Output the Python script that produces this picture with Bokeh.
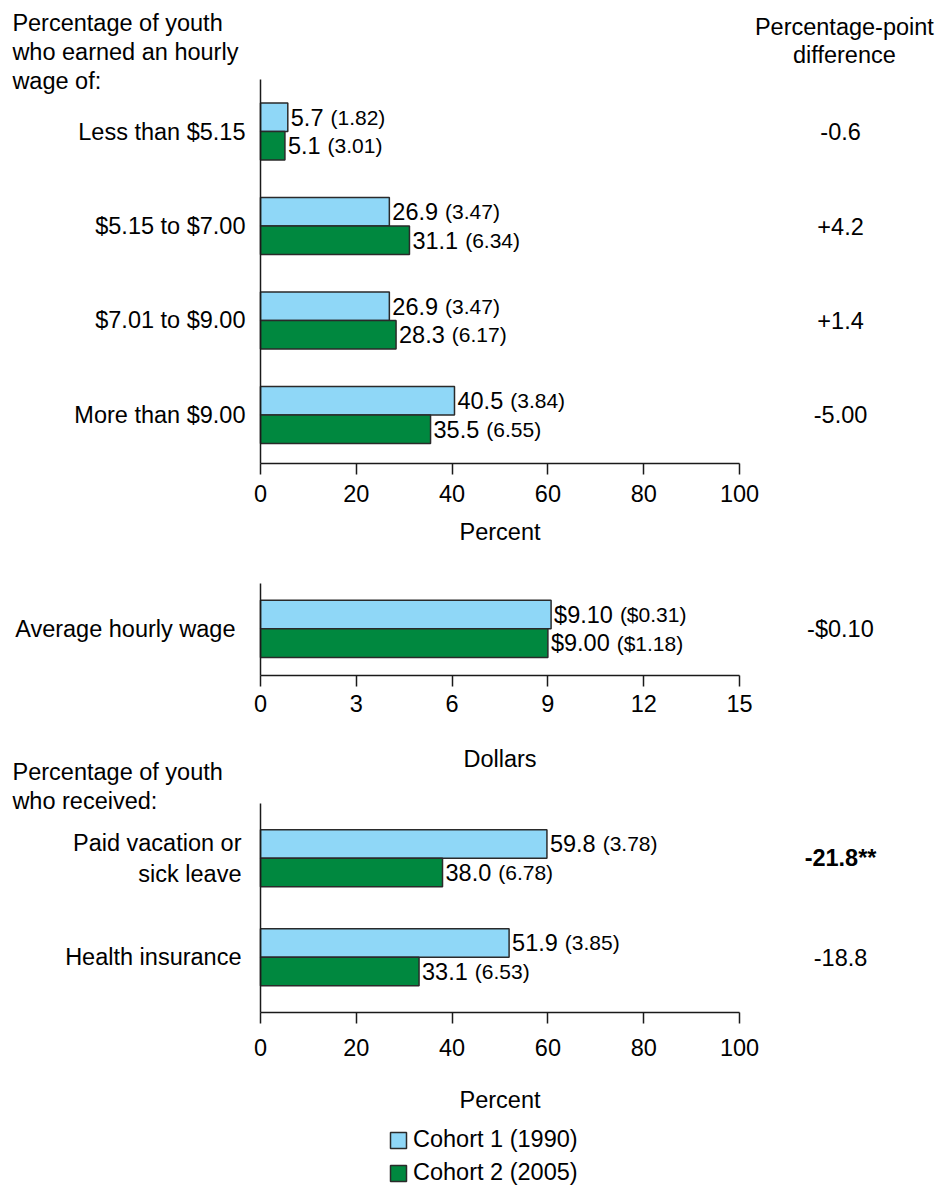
from bokeh.plotting import figure
from bokeh.models import (Range1d, FixedTicker, ColumnDataSource, LabelSet, Label,
                          Legend, LegendItem)
from bokeh.layouts import column
from bokeh.embed import file_html
from bokeh.resources import INLINE
from bokeh.core.properties import value

# ---------------- data ----------------
wage_categories = ["Less than $5.15", "$5.15 to $7.00", "$7.01 to $9.00", "More than $9.00"]
wage_c1 = [5.7, 26.9, 26.9, 40.5]
wage_c1_se = [1.82, 3.47, 3.47, 3.84]
wage_c2 = [5.1, 31.1, 28.3, 35.5]
wage_c2_se = [3.01, 6.34, 6.17, 6.55]
wage_diff = ["-0.6", "+4.2", "+1.4", "-5.00"]
wage_diff_bold = [False, False, False, False]

avg_categories = ["Average hourly wage"]
avg_c1 = [9.10]
avg_c1_se = [0.31]
avg_c2 = [9.00]
avg_c2_se = [1.18]
avg_diff = ["-$0.10"]
avg_diff_bold = [False]

benefit_categories = ["Paid vacation or\nsick leave", "Health insurance"]
benefit_c1 = [59.8, 51.9]
benefit_c1_se = [3.78, 3.85]
benefit_c2 = [38.0, 33.1]
benefit_c2_se = [6.78, 6.53]
benefit_diff = ["-21.8**", "-18.8"]
benefit_diff_bold = [True, False]

pct_ticks = [0, 20, 40, 60, 80, 100]
dollar_ticks = [0, 3, 6, 9, 12, 15]
series_names = ["Cohort 1 (1990)", "Cohort 2 (2005)"]

# ---------------- style ----------------
FONT = "Liberation Sans"
FS = "23.5px"
FS_SE = "21px"
BLUE = "#8fd7f7"
GREEN = "#00883f"
EDGE = "#2a2a2a"
AXIS = "#1a1a1a"
PAGE_W = 935

_W = {c: 0.556 for c in "0123456789$"}
_W.update({".": 0.278, "(": 0.333, ")": 0.333, " ": 0.278})


def text_width(s, px):
    return sum(_W.get(c, 0.556) for c in s) * px


def fmt_pct(v):
    return "%.1f" % v


def fmt_dol(v):
    return "$%.2f" % v


def make_panel(categories, c1, c1_se, c2, c2_se, diffs, diff_bold, x_rng, x_bounds, ticks,
               x_label, fmt, frame_h, y_rng, y_bounds, bar_h, y_standoff,
               tick_standoff, label_standoff, diff_x):
    p = figure(frame_width=PAGE_W, frame_height=frame_h,
               min_border_left=0, min_border_right=0,
               min_border_top=0, min_border_bottom=0,
               x_range=Range1d(*x_rng), y_range=Range1d(*y_rng),
               output_backend="svg", toolbar_location=None, tools="")
    p.outline_line_color = None
    p.xgrid.visible = False
    p.ygrid.visible = False
    p.background_fill_color = "white"
    p.border_fill_color = "white"

    pos = list(range(len(categories)))
    se_fmt = fmt if fmt is fmt_dol else (lambda v: "%.2f" % v)
    data = dict(
        y1=[i - bar_h / 2 for i in pos],
        y2=[i + bar_h / 2 for i in pos],
        ymid=pos,
        c1=c1, c2=c2,
        c1_txt=[fmt(v) for v in c1],
        c2_txt=[fmt(v) for v in c2],
        c1_se_txt=["(%s)" % se_fmt(v) for v in c1_se],
        c2_se_txt=["(%s)" % se_fmt(v) for v in c2_se],
        diff=diffs,
        diff_style=["bold" if b else "normal" for b in diff_bold],
    )
    data["c1_off"] = [3 + text_width(t, 23.5) + 7 for t in data["c1_txt"]]
    data["c2_off"] = [3 + text_width(t, 23.5) + 7 for t in data["c2_txt"]]
    src = ColumnDataSource(data)

    r1 = p.hbar(y="y1", left=0, right="c1", height=bar_h, source=src,
                fill_color=BLUE, line_color=EDGE, line_width=1.5)
    r2 = p.hbar(y="y2", left=0, right="c2", height=bar_h, source=src,
                fill_color=GREEN, line_color=EDGE, line_width=1.5)

    for yk, xk, tk, sk, ok in (("y1", "c1", "c1_txt", "c1_se_txt", "c1_off"),
                               ("y2", "c2", "c2_txt", "c2_se_txt", "c2_off")):
        p.add_layout(LabelSet(x=xk, y=yk, text=tk, source=src, x_offset=3,
                              text_baseline="middle", text_align="left",
                              text_font=value(FONT), text_font_size=value(FS),
                              text_color="black"))
        p.add_layout(LabelSet(x=xk, y=yk, text=sk, source=src, x_offset=ok,
                              text_baseline="middle", text_align="left",
                              text_font=value(FONT), text_font_size=value(FS_SE),
                              text_color="black"))

    p.add_layout(LabelSet(x=diff_x, y="ymid", text="diff", source=src,
                          text_baseline="middle", text_align="center",
                          text_font=value(FONT), text_font_size=value(FS),
                          text_font_style="diff_style", text_color="black"))

    xa = p.xaxis[0]
    xa.ticker = FixedTicker(ticks=ticks)
    xa.bounds = x_bounds
    xa.fixed_location = y_bounds[1]
    xa.minor_tick_line_color = None
    xa.major_tick_in = 0
    xa.major_tick_out = 11
    xa.major_tick_line_color = AXIS
    xa.major_tick_line_width = 1.5
    xa.axis_line_color = AXIS
    xa.axis_line_width = 1.5
    xa.major_label_standoff = tick_standoff
    xa.major_label_text_font = FONT
    xa.major_label_text_font_size = FS
    xa.major_label_text_color = "black"
    xa.axis_label = x_label
    xa.axis_label_text_font = FONT
    xa.axis_label_text_font_size = FS
    xa.axis_label_text_font_style = "normal"
    xa.axis_label_text_color = "black"
    xa.axis_label_standoff = label_standoff

    ya = p.yaxis[0]
    ya.fixed_location = 0
    ya.bounds = y_bounds
    ya.ticker = FixedTicker(ticks=pos)
    ya.major_label_overrides = {i: c for i, c in zip(pos, categories)}
    ya.major_tick_line_color = None
    ya.major_tick_in = 0
    ya.major_tick_out = 0
    ya.minor_tick_line_color = None
    ya.axis_line_color = AXIS
    ya.axis_line_width = 1.5
    ya.major_label_standoff = y_standoff
    ya.major_label_text_font = FONT
    ya.major_label_text_font_size = FS
    ya.major_label_text_color = "black"
    return p, r1, r2


def header(p, x, y, text, align="left", style="normal"):
    p.add_layout(Label(x=x, y=y, text=text, text_align=align, text_baseline="middle",
                       text_font=FONT, text_font_size=FS, text_font_style=style,
                       text_color="black"))


# ---------------- panel 1 ----------------
p1, _, _ = make_panel(wage_categories, wage_c1, wage_c1_se, wage_c2, wage_c2_se,
                      wage_diff, wage_diff_bold, (-54.28, 140.92), (0, 100), pct_ticks,
                      "Percent", fmt_pct, 560, (4.5408, -1.3876), (-0.552, 3.515), 0.302,
                      15, 10, 14, 121.1)
for txt, yy in zip(["Percentage of youth", "who earned an hourly", "wage of:"],
                   [-1.153, -0.843, -0.534]):
    header(p1, -51.8, yy, txt)
for txt, yy in zip(["Percentage-point", "difference"], [-1.11, -0.811]):
    header(p1, 121.9, yy, txt, align="center")

# ---------------- panel 2 ----------------
p2, _, _ = make_panel(avg_categories, avg_c1, avg_c1_se, avg_c2, avg_c2_se,
                      avg_diff, avg_diff_bold, (-8.142, 21.138), (0, 15), dollar_ticks,
                      "Dollars", fmt_dol, 227, (1.6937, -0.729), (-0.483, 0.498), 0.305,
                      25, 9, 30, 18.16)
# first line of the third panel's heading sits in this canvas
header(p2, -7.766, 1.5336, "Percentage of youth")

# ---------------- panel 3 ----------------
p3, r31, r32 = make_panel(benefit_categories, benefit_c1, benefit_c1_se, benefit_c2,
                          benefit_c2_se, benefit_diff, benefit_diff_bold,
                          (-54.28, 140.92), (0, 100), pct_ticks, "Percent", fmt_pct,
                          399, (3.3162, -0.7141), (-0.5525, 1.5586), 0.288, 19,
                          16, 27, 121.1)
header(p3, -51.8, -0.5727, "who received:")

legend = Legend(items=[LegendItem(label=series_names[0], renderers=[r31]),
                       LegendItem(label=series_names[1], renderers=[r32])],
                orientation="vertical", location=(388, 0),
                label_text_font=FONT, label_text_font_size=FS, label_text_color="black",
                glyph_width=20, glyph_height=20, label_height=20, label_standoff=5,
                spacing=6, padding=0, margin=0,
                border_line_color=None, background_fill_alpha=0)
p3.add_layout(legend, "center")

layout = column(p1, p2, p3, spacing=0)
open("out.html", "w").write(file_html(layout, INLINE))
